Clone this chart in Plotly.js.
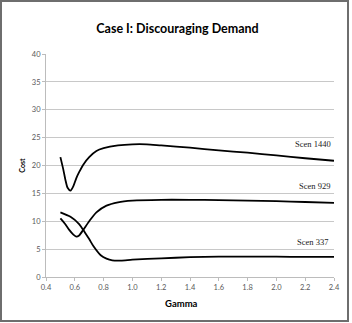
<!DOCTYPE html>
<html><head><meta charset="utf-8">
<script src="https://cdn.plot.ly/plotly-3.0.1.min.js"></script>
<style>
html,body{margin:0;padding:0;background:#fff;}
#chart{position:absolute;left:0;top:0;width:352px;height:323px;}
#frame{position:absolute;left:0;top:0;width:345px;height:318px;border:2px solid #6e6e6e;pointer-events:none;}
</style></head>
<body>
<div id="chart"></div>
<div id="frame"></div>
<script>
const xTicks = [0.4,0.6,0.8,1.0,1.2,1.4,1.6,1.8,2.0,2.2,2.4];
const xTickLabels = ['0.4','0.6','0.8','1.0','1.2','1.4','1.6','1.8','2.0','2.2','2.4'];
const yTicks = [0,5,10,15,20,25,30,35,40];

const scen1440X = [0.5,0.52,0.535,0.55,0.57,0.59,0.61,0.63,0.66,0.7,0.75,0.8,0.9,1.0,1.1,1.2,1.4,1.6,1.8,2.0,2.2,2.4];
const scen1440Y = [21.5,19.3,17.4,16.0,15.5,16.3,17.7,18.8,20.2,21.5,22.6,23.1,23.6,23.8,23.8,23.6,23.2,22.7,22.3,21.8,21.3,20.85];

const scen929X = [0.5,0.53,0.56,0.59,0.61,0.63,0.66,0.7,0.75,0.82,0.9,1.0,1.2,1.4,1.6,1.8,2.0,2.2,2.4];
const scen929Y = [10.5,9.6,8.5,7.6,7.25,7.45,8.5,10.0,11.6,12.8,13.4,13.7,13.85,13.85,13.8,13.7,13.6,13.45,13.3];

const scen337X = [0.5,0.57,0.63,0.67,0.7,0.73,0.78,0.82,0.86,0.92,1.0,1.2,1.4,1.6,1.8,2.0,2.2,2.4];
const scen337Y = [11.6,10.8,9.5,8.0,6.8,5.5,3.9,3.3,3.0,2.95,3.1,3.35,3.55,3.65,3.65,3.65,3.6,3.6];

const labelNames = ['Scen 1440','Scen 929','Scen 337'];
const labelX = [2.39,2.385,2.375];
const labelY = [23.8,16.4,6.3];

const lineStyle = {color:'#000000', width:1.8, shape:'spline', smoothing:0.7};
const traces = [
  {x:scen1440X, y:scen1440Y, mode:'lines', line:lineStyle, name:labelNames[0]},
  {x:scen929X, y:scen929Y, mode:'lines', line:lineStyle, name:labelNames[1]},
  {x:scen337X, y:scen337Y, mode:'lines', line:lineStyle, name:labelNames[2]}
];

const annotations = labelNames.map((t,i)=>({
  x:labelX[i], y:labelY[i], xref:'x', yref:'y', text:t, showarrow:false,
  xanchor:'right', yanchor:'middle',
  font:{family:'Liberation Serif, serif', size:8.5, color:'#222222'}
}));
annotations.push({
  x:(181-46)/288, y:-(303-277)/223, xref:'paper', yref:'paper', text:'<b>Gamma</b>',
  showarrow:false, xanchor:'center', yanchor:'middle',
  font:{family:'Lato, sans-serif', size:9.5, color:'#000000'}
});

const tickFont = {family:'Lato, Carlito, sans-serif', size:7.5, color:'#595959'};

const layout = {
  width:352, height:323,
  margin:{l:46, r:18, t:54, b:46},
  paper_bgcolor:'#ffffff', plot_bgcolor:'#ffffff',
  showlegend:false,
  title:{text:'<b>Case I: Discouraging Demand</b>', x:(177.5-46)/288, xref:'paper', xanchor:'center',
         y:1-29/323, yref:'container', yanchor:'middle',
         font:{family:'Lato, sans-serif', size:12.5, color:'#000000'}},
  xaxis:{range:[0.4,2.4], tickvals:xTicks, ticktext:xTickLabels,
         showgrid:false, zeroline:false, showline:true, linecolor:'#bcbcbc', linewidth:1,
         ticks:'outside', ticklen:3, tickcolor:'#bcbcbc', tickfont:tickFont},
  yaxis:{range:[0,40], tickvals:yTicks, showgrid:true, gridcolor:'#c8c8c8', gridwidth:1,
         zeroline:false, showline:true, linecolor:'#bcbcbc', linewidth:1,
         ticks:'outside', ticklen:3, tickcolor:'#bcbcbc', tickfont:tickFont,
         title:{text:'<b>Cost</b>', font:{family:'Lato, sans-serif', size:7, color:'#000000'}, standoff:5}},
  annotations:annotations
};

Plotly.newPlot('chart', traces, layout, {staticPlot:true, displayModeBar:false});
</script>
</body></html>
